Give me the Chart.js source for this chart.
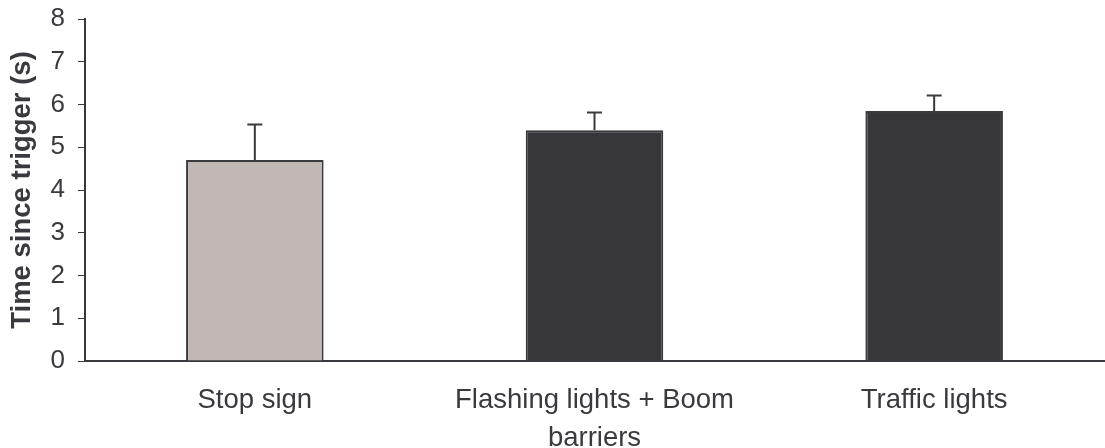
<!DOCTYPE html>
<html>
<head>
<meta charset="utf-8">
<script src="https://cdn.jsdelivr.net/npm/chart.js@4"></script>
<style>
    html, body { margin: 0; padding: 0; background: #ffffff; }
    #wrap { width: 1105px; height: 448px; position: relative; }
</style>
</head>
<body>
<div id="wrap"><canvas id="chart"></canvas></div>
<script>
// Values
const categories = ['Stop sign', ['Flashing lights + Boom', 'barriers'], 'Traffic lights'];
const meanTimes = [4.7, 5.4, 5.85];
const errorUp = [0.83, 0.41, 0.36];
const barColors = ['#c0b8b5', '#37363b', '#37363b'];
const yTicks = [0, 1, 2, 3, 4, 5, 6, 7, 8];

const AXIS = '#3a3a3e';
const TEXT = '#3a3a3e';
const FONT = "'Liberation Sans', Arial, sans-serif";

/**
 * Draw upward error bars with a cap, using the chart's own scales
 */
const errorBarPlugin = {
    id: 'errorBars',
    afterDatasetsDraw(chart) {
        const ctx = chart.ctx;
        const meta = chart.getDatasetMeta(0);
        const y = chart.scales.y;
        ctx.save();
        ctx.strokeStyle = AXIS;
        ctx.lineWidth = 2;
        meta.data.forEach((bar, i) => {
            const top = y.getPixelForValue(meanTimes[i] + errorUp[i]);
            const base = y.getPixelForValue(meanTimes[i]);
            ctx.beginPath();
            ctx.moveTo(bar.x, base);
            ctx.lineTo(bar.x, top);
            ctx.moveTo(bar.x - 7.5, top);
            ctx.lineTo(bar.x + 7.5, top);
            ctx.stroke();
        });
        ctx.restore();
    }
};

new Chart(document.getElementById('chart'), {
    type: 'bar',
    data: {
        labels: categories,
        datasets: [{
            data: meanTimes,
            backgroundColor: barColors,
            borderColor: AXIS,
            borderWidth: 2,
            categoryPercentage: 1,
            barPercentage: 0.405
        }]
    },
    options: {
        responsive: true,
        maintainAspectRatio: false,
        animation: false,
        layout: {
            padding: { top: 19, right: 1, left: 0, bottom: 0 }
        },
        plugins: {
            legend: { display: false },
            tooltip: { enabled: false }
        },
        scales: {
            x: {
                grid: { display: false, drawTicks: false },
                border: { color: AXIS, width: 2 },
                ticks: {
                    color: TEXT,
                    padding: 20,
                    maxRotation: 0,
                    font: { family: FONT, size: 27.5, lineHeight: 1.4 }
                },
                afterFit: function(scale) {
                    scale.height = 87;
                }
            },
            y: {
                min: 0,
                max: 8,
                afterBuildTicks: function(scale) {
                    scale.ticks = yTicks.map(v => ({ value: v }));
                },
                grid: {
                    drawOnChartArea: false,
                    drawTicks: true,
                    tickLength: 7,
                    color: AXIS
                },
                border: { color: AXIS, width: 2 },
                ticks: {
                    color: TEXT,
                    padding: 13,
                    font: { family: FONT, size: 26 }
                },
                title: {
                    display: true,
                    text: 'Time since trigger (s)',
                    color: TEXT,
                    padding: { top: 6, bottom: 0 },
                    font: { family: FONT, size: 27.5, weight: 'bold' }
                },
                afterFit: function(scale) {
                    scale.width = 85;
                    // let the layout padding alone set the top of the plot
                    scale.paddingTop = 0;
                    scale.paddingBottom = 0;
                }
            }
        }
    },
    plugins: [errorBarPlugin]
});
</script>
</body>
</html>
